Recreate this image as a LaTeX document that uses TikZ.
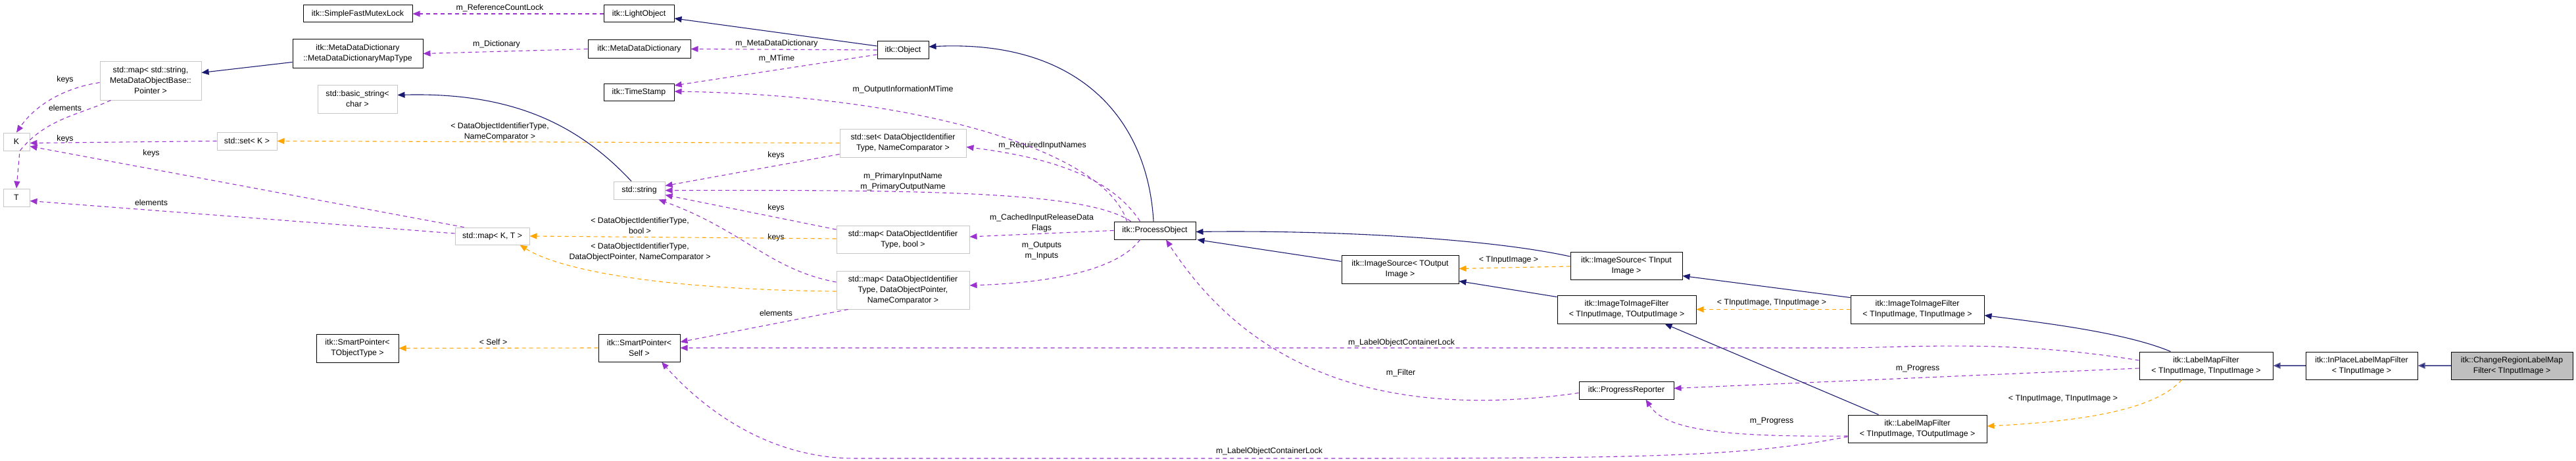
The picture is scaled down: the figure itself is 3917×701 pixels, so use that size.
\documentclass[tikz,border=0pt]{standalone}
\usepackage{fontspec}
\setmainfont{Liberation Sans}
\usetikzlibrary{arrows.meta,calc}
\definecolor{navy}{HTML}{191970}
\definecolor{purp}{HTML}{9A32CD}
\definecolor{orng}{HTML}{FFA500}
\begin{document}
\begin{tikzpicture}[x=1pt,y=-1pt,
  every node/.style={font=\fontsize{12.3}{16}\selectfont, inner sep=1pt},
  cls/.style={draw=black, line width=1pt, align=center, fill=white},
  ext/.style={draw=gray!45, line width=1pt, align=center, fill=white},
  inh/.style={draw=navy, line width=1.1pt, -{Triangle[length=11pt,width=9pt,fill=navy]}},
  use/.style={draw=purp, dashed, dash pattern=on 6pt off 5pt, line width=1.1pt, -{Triangle[length=11pt,width=9pt,fill=purp]}},
  tpl/.style={draw=orng, dashed, dash pattern=on 6pt off 5pt, line width=1.1pt, -{Triangle[length=11pt,width=9pt,fill=orng]}},
  lbl/.style={align=center, fill=none}]
\useasboundingbox (0,0) rectangle (3917,701);
% nodes
\node[cls, minimum width=166, minimum height=26] (smfl) at (544,21) {itk::SimpleFastMutexLock};
\node[cls, minimum width=107, minimum height=26] (light) at (971.5,21) {itk::LightObject};
\node[cls, minimum width=156, minimum height=27] (mdd) at (972,74.5) {itk::MetaDataDictionary};
\node[cls, minimum width=198, minimum height=43] (mdmt) at (544,81.5) {itk::MetaDataDictionary\\::MetaDataDictionaryMapType};
\node[cls, minimum width=78, minimum height=26] (obj) at (1373,76) {itk::Object};
\node[cls, minimum width=107, minimum height=26] (ts) at (971.5,140) {itk::TimeStamp};
\node[ext, minimum width=121, minimum height=43] (bstr) at (543.5,150.5) {std::basic\_string\textless\\char \textgreater};
\node[ext, minimum width=154, minimum height=59] (mapss) at (229,122.5) {std::map\textless{} std::string,\\MetaDataObjectBase::\\Pointer \textgreater};
\node[ext, minimum width=40, minimum height=27] (K) at (25,215.5) {K};
\node[ext, minimum width=40, minimum height=27] (T) at (25,300.5) {T};
\node[ext, minimum width=91, minimum height=27] (setK) at (375.5,214.5) {std::set\textless{} K \textgreater};
\node[ext, minimum width=192, minimum height=43] (setD) at (1373,217.5) {std::set\textless{} DataObjectIdentifier\\Type, NameComparator \textgreater};
\node[ext, minimum width=78, minimum height=27] (str) at (972,289.5) {std::string};
\node[ext, minimum width=113, minimum height=26] (mapKT) at (748.5,359) {std::map\textless{} K, T \textgreater};
\node[ext, minimum width=202, minimum height=42] (mapB) at (1373,364) {std::map\textless{} DataObjectIdentifier\\Type, bool \textgreater};
\node[ext, minimum width=202, minimum height=58] (mapD) at (1373,441) {std::map\textless{} DataObjectIdentifier\\Type, DataObjectPointer,\\NameComparator \textgreater};
\node[cls, minimum width=124, minimum height=27] (po) at (1756,350.5) {itk::ProcessObject};
\node[cls, minimum width=125, minimum height=43] (spT) at (543.5,529.5) {itk::SmartPointer\textless\\TObjectType \textgreater};
\node[cls, minimum width=124, minimum height=42] (spS) at (972,529) {itk::SmartPointer\textless\\Self \textgreater};
\node[cls, minimum width=178, minimum height=43] (isO) at (2129,409.5) {itk::ImageSource\textless{} TOutput\\Image \textgreater};
\node[cls, minimum width=170, minimum height=42] (isI) at (2473,404) {itk::ImageSource\textless{} TInput\\Image \textgreater};
\node[cls, minimum width=211, minimum height=43] (itiO) at (2473.5,470.5) {itk::ImageToImageFilter\\\textless{} TInputImage, TOutputImage \textgreater};
\node[cls, minimum width=144, minimum height=27] (pr) at (2473,593.5) {itk::ProgressReporter};
\node[cls, minimum width=203, minimum height=43] (itiI) at (2915.5,470.5) {itk::ImageToImageFilter\\\textless{} TInputImage, TInputImage \textgreater};
\node[cls, minimum width=203, minimum height=42] (lmfI) at (3354.5,556) {itk::LabelMapFilter\\\textless{} TInputImage, TInputImage \textgreater};
\node[cls, minimum width=170, minimum height=42] (inpl) at (3591,556) {itk::InPlaceLabelMapFilter\\\textless{} TInputImage \textgreater};
\node[cls, fill=gray!50, minimum width=185, minimum height=42] (chg) at (3819.5,556) {itk::ChangeRegionLabelMap\\Filter\textless{} TInputImage \textgreater};
\node[cls, minimum width=211, minimum height=42] (lmfO) at (2915.5,652) {itk::LabelMapFilter\\\textless{} TInputImage, TOutputImage \textgreater};
% edges
\draw[use] (light.west) -- (smfl.east);
\node[lbl] at (760,12) {m\_ReferenceCountLock};
\draw[inh] ($(obj.west)+(0,-6)$) -- ($(light.east)+(0,7)$);
\draw[use] (obj.west) -- (mdd.east);
\node[lbl] at (1181,66) {m\_MetaDataDictionary};
\draw[use] (mdd.west) -- (mdmt.east);
\node[lbl] at (755,67) {m\_Dictionary};
\draw[use] ($(obj.west)+(0,7)$) -- ($(ts.east)+(0,-10)$);
\node[lbl] at (1181,89) {m\_MTime};
\draw[inh] ($(mdmt.west)+(0,13)$) -- ($(mapss.east)+(0,-12)$);
\draw[use] ($(mapss.west)+(0,3)$) .. controls (90,135) and (50,165) .. (K.north);
\node[lbl] at (99,121) {keys};
\draw[use] ($(mapss.south west)+(17,0)$) .. controls (120,175) and (70,180) .. ($(K.south)+(5,0)$) -- (T.north);
\node[lbl] at (99,164) {elements};
\draw[use] (setK.west) -- ($(K.east)+(0,2)$);
\node[lbl] at (99,211) {keys};
\draw[use] ($(mapKT.north west)+(14,0)$) -- ($(K.east)+(0,7)$);
\node[lbl] at (230,233) {keys};
\draw[use] ($(mapKT.west)+(0,-4)$) -- ($(T.east)+(0,5)$);
\node[lbl] at (230,308) {elements};
\draw[tpl] (setD.west) -- (setK.east);
\node[lbl] at (760,200) {\textless{} DataObjectIdentifierType,\\NameComparator \textgreater};
\draw[inh] ($(str.north)+(-12,0)$) .. controls (880,190) and (780,140) .. ($(bstr.east)+(0,-6)$);
\draw[use] ($(setD.south west)+(0,-5)$) -- ($(str.east)+(0,-7)$);
\node[lbl] at (1180,236) {keys};
\draw[use] ($(po.north west)+(26,0)$) .. controls (1650,290) and (1400,289) .. (str.east);
\node[lbl] at (1373,276) {m\_PrimaryInputName\\m\_PrimaryOutputName};
\draw[use] ($(mapB.west)+(0,-15)$) -- ($(str.east)+(0,7)$);
\node[lbl] at (1180,316) {keys};
\draw[use] ($(mapD.west)+(0,-12)$) .. controls (1170,410) and (1130,350) .. ($(str.south east)+(-10,0)$);
\node[lbl] at (1180,361) {keys};
\draw[tpl] ($(mapB.west)+(0,-1)$) -- (mapKT.east);
\node[lbl] at (973,343) {\textless{} DataObjectIdentifierType,\\bool \textgreater};
\draw[tpl] ($(mapD.west)+(0,2)$) .. controls (1000,440) and (850,410) .. ($(mapKT.south east)+(-15,0)$);
\node[lbl] at (973,383) {\textless{} DataObjectIdentifierType,\\DataObjectPointer, NameComparator \textgreater};
\draw[use] ($(mapD.south west)+(18,0)$) -- ($(spS.east)+(0,-9)$);
\node[lbl] at (1180,476) {elements};
\draw[use] ($(po.north west)+(40,0)$) .. controls (1690,270) and (1600,240) .. ($(setD.east)+(0,6)$);
\node[lbl] at (1585,221) {m\_RequiredInputNames};
\draw[use] (po.west) -- ($(mapB.east)+(0,-4)$);
\node[lbl] at (1584,339) {m\_CachedInputReleaseData\\Flags};
\draw[use] ($(po.south west)+(40,0)$) .. controls (1700,410) and (1600,430) .. ($(mapD.east)+(0,-7)$);
\node[lbl] at (1584,381) {m\_Outputs\\m\_Inputs};
\draw[inh] ($(po.north)+(-2,0)$) .. controls (1745,180) and (1640,60) .. ($(obj.east)+(0,-5)$);
\draw[use] ($(po.north west)+(20,0)$) .. controls (1680,230) and (1400,145) .. ($(ts.east)+(0,-1)$);
\node[lbl] at (1373,136) {m\_OutputInformationMTime};
\draw[tpl] (spS.west) -- (spT.east);
\node[lbl] at (750,520) {\textless{} Self \textgreater};
\draw[use] ($(lmfI.west)+(0,-8)$) .. controls (3050,515) and (2900,529) .. (2800,529) -- (spS.east);
\node[lbl] at (2131,521) {m\_LabelObjectContainerLock};
\draw[use] ($(lmfO.west)+(0,12)$) .. controls (2650,695) and (2500,697) .. (2000,697) -- (1300,697) .. controls (1150,697) and (1050,600) .. ($(spS.south)+(34,0)$);
\node[lbl] at (1930,686) {m\_LabelObjectContainerLock};
\draw[use] ($(pr.west)+(0,4)$) .. controls (2100,640) and (1900,560) .. ($(po.south)+(17,0)$);
\node[lbl] at (2130,567) {m\_Filter};
\draw[inh] ($(isO.west)+(0,-12)$) -- ($(po.south east)+(2,0)$);
\draw[inh] ($(isI.west)+(0,-14)$) .. controls (2250,360) and (2000,350) .. ($(po.east)+(0,2)$);
\draw[tpl] ($(isI.west)+(0,1)$) -- ($(isO.east)+(0,-1)$);
\node[lbl] at (2294,396) {\textless{} TInputImage \textgreater};
\draw[inh] ($(itiO.north west)+(0,3)$) -- ($(isO.south east)+(0,-4)$);
\draw[inh] ($(itiI.north west)+(0,4)$) -- ($(isI.south east)+(0,-6)$);
\draw[tpl] (itiI.west) -- (itiO.east);
\node[lbl] at (2694,461) {\textless{} TInputImage, TInputImage \textgreater};
\draw[inh] ($(lmfI.north west)+(48,0)$) .. controls (3230,505) and (3100,490) .. ($(itiI.east)+(0,9)$);
\draw[use] ($(lmfI.west)+(0,4)$) -- ($(pr.east)+(0,-3)$);
\node[lbl] at (2916,561) {m\_Progress};
\draw[inh] ($(lmfO.north west)+(47,0)$) -- ($(itiO.south west)+(164,0)$);
\draw[use] ($(lmfO.west)+(0,11)$) .. controls (2600,665) and (2530,650) .. ($(pr.south west)+(102,0)$);
\node[lbl] at (2694,641) {m\_Progress};
\draw[tpl] ($(lmfI.south west)+(65,0)$) .. controls (3280,620) and (3180,640) .. ($(lmfO.east)+(0,-4)$);
\node[lbl] at (3137,607) {\textless{} TInputImage, TInputImage \textgreater};
\draw[inh, draw=navy!75, line width=1.8pt] (inpl.west) -- (lmfI.east);
\draw[inh, draw=navy!75, line width=1.8pt] (chg.west) -- (inpl.east);
\end{tikzpicture}
\end{document}
